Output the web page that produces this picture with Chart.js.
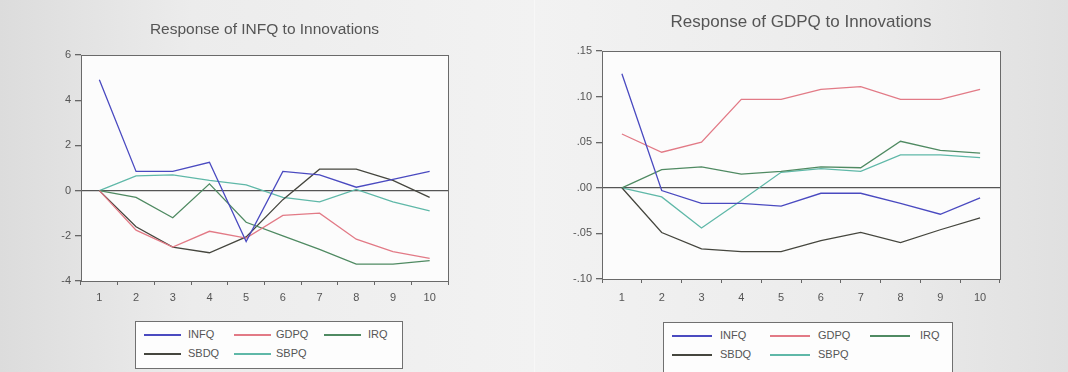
<!DOCTYPE html>
<html>
<head>
<meta charset="utf-8">
<script src="https://cdn.jsdelivr.net/npm/chart.js@4.4.1/dist/chart.umd.min.js"></script>
<style>
  html, body { margin: 0; padding: 0; }
  body {
    width: 1068px; height: 372px; overflow: hidden; position: relative;
    background: linear-gradient(90deg, #dcdcdc 0%, #ececec 18%, #f2f2f2 50%, #ebebeb 82%, #e0e0e0 100%);
    font-family: "Liberation Sans", Arial, sans-serif;
  }
  .panel { position: absolute; top: 0; width: 534px; height: 372px; }
  #left-panel { left: 0; }
  #right-panel { left: 534px; border-left: 1px solid #f7f7f7; }
  canvas { position: absolute; top: 0; left: 0; }
  .legend { position: absolute; border: 1px solid #707070; background: #fdfdfd; }
  .legend-line { position: absolute; height: 2px; }
  .legend-text { position: absolute; font-size: 11px; line-height: 12px; color: #555; }
</style>
</head>
<body>
<div class="panel" id="left-panel">
  <canvas id="infq-chart" width="534" height="310"></canvas>
  <div class="legend" id="infq-legend"></div>
</div>
<div class="panel" id="right-panel">
  <canvas id="gdpq-chart" width="534" height="310"></canvas>
  <div class="legend" id="gdpq-legend"></div>
</div>
<script>
const periods = ["1", "2", "3", "4", "5", "6", "7", "8", "9", "10"];
const seriesNames = ["INFQ", "GDPQ", "IRQ", "SBDQ", "SBPQ"];
const seriesColors = ["#4a4ac0", "#e27a86", "#4f8a62", "#45463e", "#5fb8a8"];

// response of INFQ
const infqToInfq = [4.9, 0.85, 0.85, 1.25, -2.25, 0.85, 0.7, 0.15, 0.5, 0.85];
const infqToGdpq = [0, -1.75, -2.5, -1.8, -2.1, -1.1, -1.0, -2.15, -2.7, -3.0];
const infqToIrq = [0, -0.3, -1.2, 0.3, -1.4, -2.0, -2.6, -3.25, -3.25, -3.1];
const infqToSbdq = [0, -1.6, -2.5, -2.75, -2.05, -0.4, 0.95, 0.95, 0.45, -0.3];
const infqToSbpq = [0, 0.65, 0.7, 0.45, 0.25, -0.3, -0.5, 0.05, -0.5, -0.9];
const infqTicks = [-4, -2, 0, 2, 4, 6];

// response of GDPQ
const gdpqToInfq = [0.125, -0.003, -0.017, -0.017, -0.02, -0.006, -0.006, -0.017, -0.029, -0.011];
const gdpqToGdpq = [0.059, 0.039, 0.05, 0.097, 0.097, 0.108, 0.111, 0.097, 0.097, 0.108];
const gdpqToIrq = [0, 0.02, 0.023, 0.015, 0.018, 0.023, 0.022, 0.051, 0.041, 0.038];
const gdpqToSbdq = [0, -0.049, -0.067, -0.07, -0.07, -0.058, -0.049, -0.06, -0.046, -0.033];
const gdpqToSbpq = [0, -0.01, -0.044, -0.014, 0.017, 0.021, 0.018, 0.036, 0.036, 0.033];
const gdpqTicks = [-0.1, -0.05, 0, 0.05, 0.1, 0.15];

// plot background, frame and a title centred over the plot area
const framePlugin = {
  id: "frame",
  beforeDraw(chart, args, opts) {
    const { ctx, chartArea: a } = chart;
    ctx.save();
    ctx.fillStyle = "#fcfcfc";
    ctx.fillRect(a.left, a.top, a.right - a.left, a.bottom - a.top);
    ctx.fillStyle = "#555";
    ctx.font = opts.titleSize + 'px "Liberation Sans", Arial, sans-serif';
    ctx.textAlign = "center";
    ctx.textBaseline = "middle";
    ctx.fillText(opts.title, (a.left + a.right) / 2, opts.titleY);
    ctx.restore();
  },
  afterDraw(chart) {
    const { ctx, chartArea: a } = chart;
    ctx.save();
    ctx.strokeStyle = "#6a6a6a";
    ctx.lineWidth = 1;
    ctx.strokeRect(Math.round(a.left) + 0.5, Math.round(a.top) + 0.5,
      Math.round(a.right - a.left), Math.round(a.bottom - a.top));
    ctx.restore();
  },
};

function isZero(v) {
  return Math.abs(v) < 1e-9;
}

function makeChart(canvasId, title, seriesValues, ticks, opts) {
  return new Chart(document.getElementById(canvasId), {
    type: "line",
    data: {
      labels: periods,
      datasets: seriesValues.map((values, i) => ({
        label: seriesNames[i],
        data: values,
        borderColor: seriesColors[i],
        borderWidth: 1.3,
        pointRadius: 0,
        tension: 0,
        fill: false,
      })),
    },
    options: {
      responsive: false,
      animation: false,
      devicePixelRatio: 1,
      layout: { padding: opts.padding },
      plugins: {
        legend: { display: false },
        tooltip: { enabled: false },
        title: { display: false },
        frame: { title: title, titleSize: opts.titleSize, titleY: opts.titleY },
      },
      scales: {
        x: {
          offset: true,
          border: { display: false },
          grid: { offset: true, drawOnChartArea: false, tickLength: 4, color: "#666" },
          ticks: { color: "#555", padding: opts.xTickPadding, font: { family: "Liberation Sans", size: 11 } },
          afterFit: (scale) => { scale.height = 24; },
        },
        y: {
          min: ticks[0],
          max: ticks[ticks.length - 1],
          border: { display: false },
          afterBuildTicks: (scale) => { scale.ticks = ticks.map((v) => ({ value: v })); },
          afterFit: (scale) => { scale.width = opts.yWidth; },
          grid: {
            color: (c) => (isZero(c.tick.value) ? "#555" : "rgba(0,0,0,0)"),
            lineWidth: 1.3,
            tickColor: "#666",
            tickLength: 6,
          },
          ticks: {
            color: "#555",
            padding: 4,
            font: { family: "Liberation Sans", size: 11 },
            callback: opts.tickFormat,
          },
        },
      },
    },
    plugins: [framePlugin],
  });
}

function buildLegend(boxId, layout) {
  const box = document.getElementById(boxId);
  Object.assign(box.style, {
    left: layout.left + "px", top: layout.top + "px",
    width: layout.width + "px", height: layout.height + "px",
  });
  seriesNames.forEach((name, i) => {
    const col = i < 3 ? i : i - 3;
    const row = i < 3 ? 0 : 1;
    const line = document.createElement("div");
    line.className = "legend-line";
    line.style.left = layout.lineX[col] + "px";
    line.style.top = layout.rowY[row] + "px";
    line.style.width = layout.lineWidth + "px";
    line.style.backgroundColor = seriesColors[i];
    box.appendChild(line);
    const text = document.createElement("div");
    text.className = "legend-text";
    text.style.left = layout.textX[col] + "px";
    text.style.top = layout.rowY[row] - 6 + "px";
    text.innerText = name;
    box.appendChild(text);
  });
}

makeChart(
  "infq-chart",
  "Response of INFQ to Innovations",
  [infqToInfq, infqToGdpq, infqToIrq, infqToSbdq, infqToSbpq],
  infqTicks,
  {
    padding: { left: 0, right: 86, top: 55, bottom: 5 },
    titleSize: 15.5,
    titleY: 30,
    yWidth: 81,
    xTickPadding: 6,
    tickFormat: (v) => String(v),
  }
);

makeChart(
  "gdpq-chart",
  "Response of GDPQ to Innovations",
  [gdpqToInfq, gdpqToGdpq, gdpqToIrq, gdpqToSbdq, gdpqToSbpq],
  gdpqTicks,
  {
    padding: { left: 0, right: 69, top: 51, bottom: 7 },
    titleSize: 17,
    titleY: 22,
    yWidth: 67,
    xTickPadding: 8,
    tickFormat: (v) => (isZero(v) ? ".00" : v.toFixed(2).replace("0.", ".")),
  }
);

buildLegend("infq-legend", {
  left: 135, top: 321, width: 266, height: 46,
  lineX: [8, 98, 188], textX: [52, 140, 232], rowY: [12, 31], lineWidth: 37,
});

buildLegend("gdpq-legend", {
  left: 128, top: 322, width: 288, height: 60,
  lineX: [8, 106, 206], textX: [56, 154, 256], rowY: [12, 31], lineWidth: 40,
});
</script>
</body>
</html>
